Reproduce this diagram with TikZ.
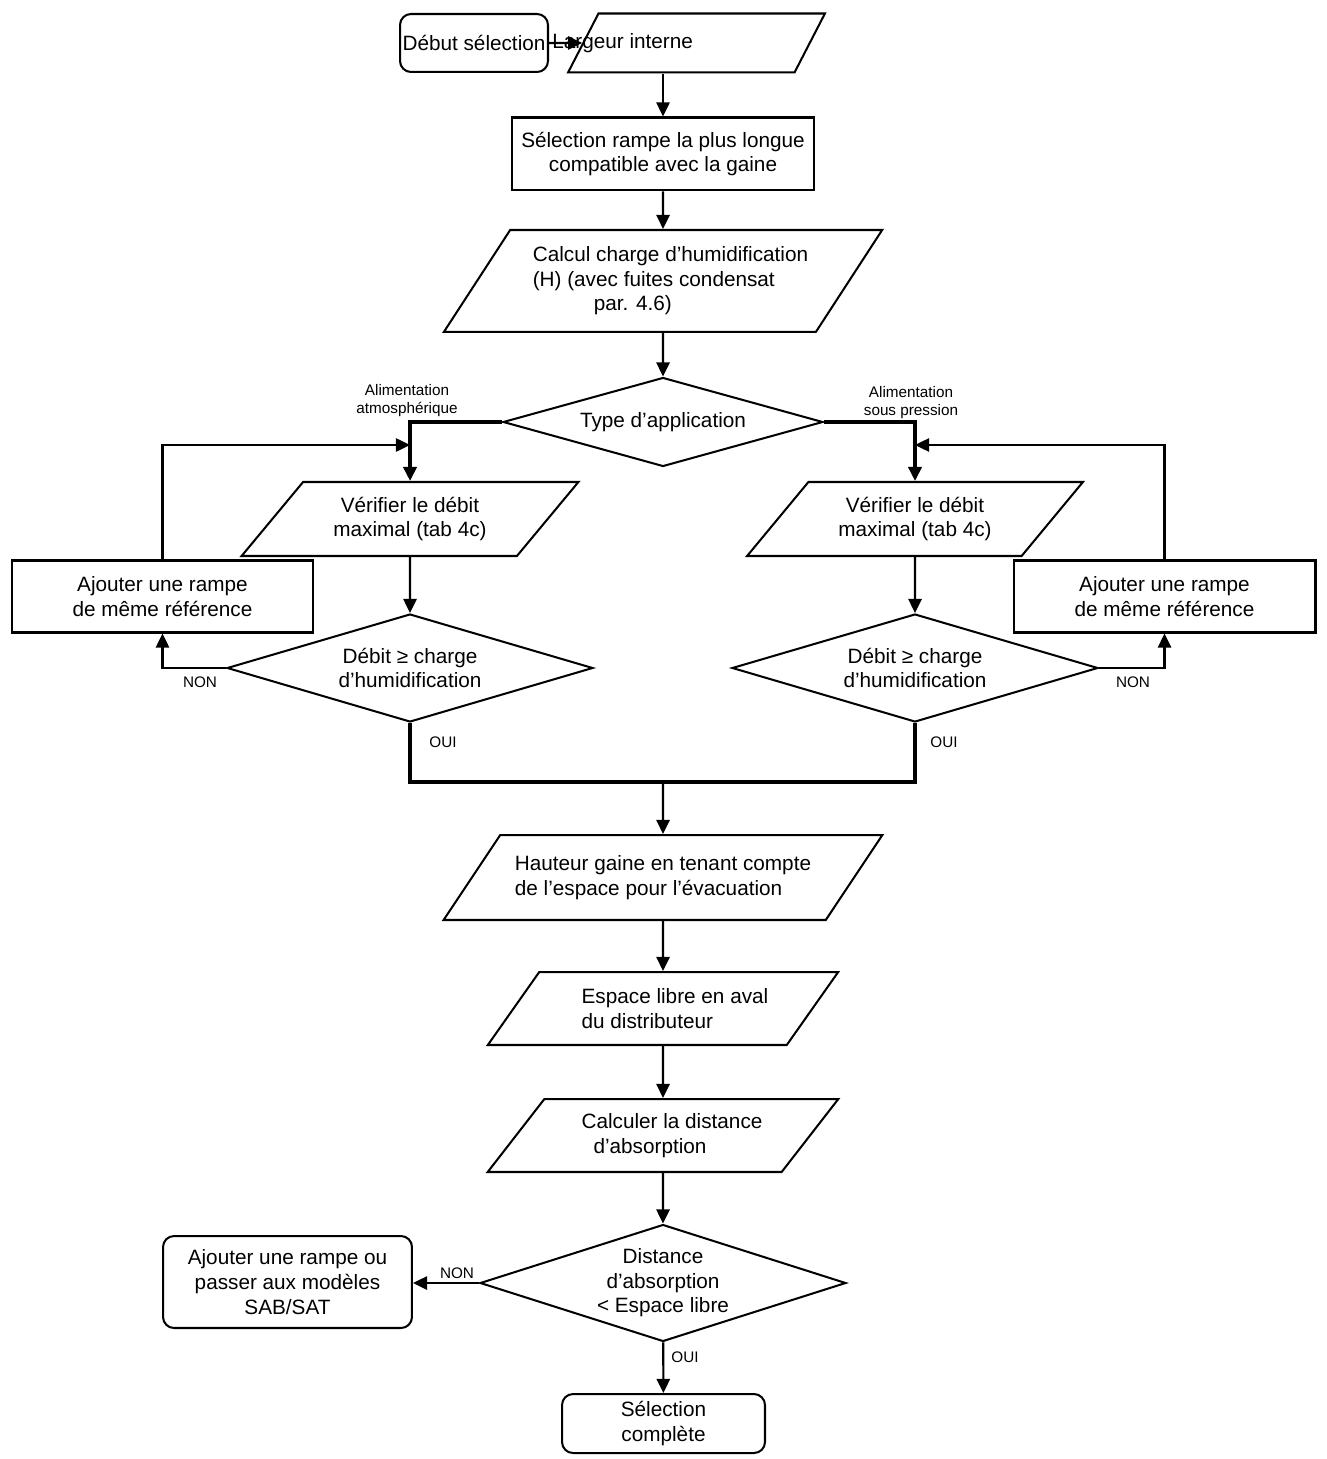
\documentclass[tikz,border=0pt]{standalone}
\usepackage{fontspec}
\setmainfont{Liberation Sans}
\usetikzlibrary{arrows.meta, shapes.geometric}

\tikzset{
  every node/.style={font=\fontsize{11.8}{14}\selectfont, align=center},
  process/.style={draw, line width=1.15pt, rectangle, inner sep=2pt},
  startstop/.style={draw, line width=1.15pt, rectangle, rounded corners=0.22cm, inner sep=2pt},
  datain/.style={draw, line width=1.15pt, trapezium, trapezium stretches=true, inner sep=2pt},
  decision/.style={draw, line width=1.15pt, diamond, inner sep=0pt},
  lbl/.style={font=\fontsize{8.7}{10.2}\selectfont, inner sep=1pt},
  arr/.style={line width=1.2pt, -{Triangle[length=8pt, width=7.5pt]}},
  thickline/.style={line width=1.9pt},
}

\begin{document}
\begin{tikzpicture}[x=0.02cm, y=-0.02cm]
\useasboundingbox (0,0) rectangle (1326,1459);

% colonne principale
\node[startstop, minimum width=2.96cm, minimum height=1.16cm, inner sep=0pt] (debut) at (474,43) {Début sélection};
\node[datain, trapezium left angle=49, trapezium right angle=131, minimum width=5.14cm, minimum height=1.18cm] (larg) at (696.5,43) {\phantom{Largeur interne}};
\node[anchor=west, inner sep=0pt] (largtxt) at (552,43) {Largeur interne};
\node[process, minimum width=6.04cm, minimum height=1.46cm] (sel) at (663,154) {Sélection rampe la plus longue\\compatible avec la gaine};
\node[datain, trapezium left angle=49.5, trapezium right angle=130.5, minimum width=8.8cm, minimum height=2.04cm, align=left] (calc) at (663,281) {\hspace*{0.3cm}Calcul charge d’humidification\\\hspace*{0.3cm}(H) (avec fuites condensat\\\hspace*{1.52cm}par. 4.6)};
\node[decision, aspect=3.6, minimum width=6.4cm, minimum height=1.78cm] (typ) at (663,422) {Type d’application};

% branche gauche
\node[datain, trapezium left angle=48, trapezium right angle=132, minimum width=6.74cm, minimum height=1.48cm] (verL) at (410,519) {Vérifier le débit\\maximal (tab 4c)};
\node[decision, aspect=3.4, minimum width=7.32cm, minimum height=2.16cm] (debL) at (410,668) {Débit ≥ charge\\d’humidification};
\node[process, minimum width=6.02cm, minimum height=1.44cm] (addL) at (162.5,596.5) {Ajouter une rampe\\de même référence};

% branche droite
\node[datain, trapezium left angle=48, trapezium right angle=132, minimum width=6.72cm, minimum height=1.48cm] (verR) at (915,519) {Vérifier le débit\\maximal (tab 4c)};
\node[decision, aspect=3.4, minimum width=7.32cm, minimum height=2.16cm] (debR) at (915,668) {Débit ≥ charge\\d’humidification};
\node[process, minimum width=6.04cm, minimum height=1.44cm] (addR) at (1164.5,596.5) {Ajouter une rampe\\de même référence};

% suite
\node[datain, trapezium left angle=44, trapezium right angle=136, minimum width=8.8cm, minimum height=1.7cm, align=left] (haut) at (663,877.5) {Hauteur gaine en tenant compte\\de l’espace pour l’évacuation};
\node[datain, trapezium left angle=46, trapezium right angle=134, minimum width=7.02cm, minimum height=1.46cm, align=left] (esp) at (663,1008.5) {\hspace*{0.48cm}Espace libre en aval\\\hspace*{0.48cm}du distributeur};
\node[datain, trapezium left angle=46, trapezium right angle=134, minimum width=7.02cm, minimum height=1.46cm, align=left] (calcd) at (663,1135.5) {\hspace*{0.36cm}Calculer la distance\\\hspace*{0.6cm}d’absorption};
\node[decision, aspect=3.13, minimum width=7.32cm, minimum height=2.34cm] (dist) at (663,1283) {Distance\\d’absorption\\< Espace libre};
\node[startstop, minimum width=4.98cm, minimum height=1.84cm] (addB) at (287.5,1282) {Ajouter une rampe ou\\passer aux modèles\\SAB/SAT};
\node[startstop, minimum width=4.06cm, minimum height=1.18cm] (fin) at (663.5,1423.5) {Sélection\\complète};

% points de jonction
\coordinate (jL) at (410,445);
\coordinate (jR) at (915,445);
\coordinate (mrg) at (663,782);

% liaisons
\draw[arr] (debut) -- (larg);
\draw[arr] (larg.south -| sel.north) -- (sel.north);
\draw[arr] (sel) -- (calc);
\draw[arr] (calc) -- (typ);
\draw[arr, thickline] (typ.west) -| (verL.north);
\draw[arr, thickline] (typ.east) -| (verR.north);
\draw[arr] (verL) -- (debL);
\draw[arr] (verR) -- (debR);
\draw[arr] (debL.west) -| (addL.south);
\draw[arr] (debR.east) -| (addR.south);
\draw[arr] (addL.north) |- (jL);
\draw[arr] (addR.north) |- (jR);
\draw[thickline] (debL.south) |- (mrg) -| (debR.south);
\draw[arr] (mrg) -- (haut);
\draw[arr] (haut) -- (esp);
\draw[arr] (esp) -- (calcd);
\draw[arr] (calcd) -- (dist);
\draw[arr] (dist.west) -- (dist.west -| addB.east);
\draw[arr] (dist) -- (fin);

% étiquettes
\node[lbl] (alimA) at (407,401) {Alimentation\\atmosphérique};
\node[lbl] (alimP) at (911,403) {Alimentation\\sous pression};
\node[lbl] (nonL) at (200,682) {NON};
\node[lbl] (nonR) at (1133,682) {NON};
\node[lbl] (ouiL) at (443,742) {OUI};
\node[lbl] (ouiR) at (944,742) {OUI};
\node[lbl] (nonB) at (457,1273) {NON};
\node[lbl] (ouiB) at (685,1357) {OUI};
\end{tikzpicture}
\end{document}
